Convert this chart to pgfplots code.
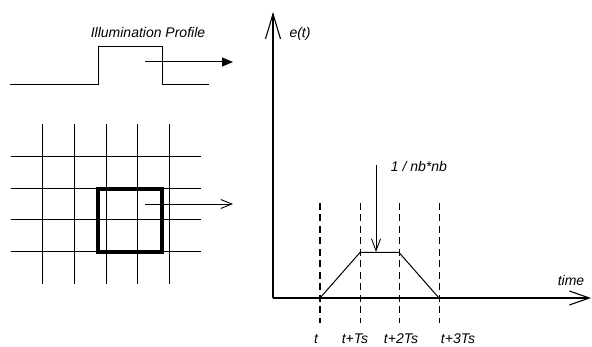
\documentclass[border=0pt]{standalone}
\usepackage{pgfplots}
\pgfplotsset{compat=1.18}
\usetikzlibrary{arrows.meta}
\usepackage{fontspec}
\setmainfont{Liberation Sans}
\tikzset{lbl/.style={font=\itshape\fontsize{14}{16}\selectfont, inner sep=0pt}}
\begin{document}
\begin{tikzpicture}
\begin{axis}[
  scale only axis, width=592pt, height=347pt,
  xmin=0, xmax=592, ymin=0, ymax=347, y dir=reverse,
  hide axis, clip=false, unbounded coords=jump,
  every axis plot/.append style={mark=none},
]
% illumination profile
\addplot[black, line width=1pt] coordinates {(10,85) (98,85) (98,47) (162,47) (162,85) (209,85)};
\addplot[black, line width=1pt, -{Triangle[length=11pt,width=9pt]}] coordinates {(145,62) (233,62)};
% grid
\addplot[black, line width=1pt] coordinates {(42,124) (42,284) (nan,nan) (74,124) (74,284) (nan,nan)
  (106,124) (106,284) (nan,nan) (137,124) (137,284) (nan,nan) (169,124) (169,284)};
\addplot[black, line width=1pt] coordinates {(11,157) (201,157) (nan,nan) (11,189) (201,189) (nan,nan)
  (11,220) (201,220) (nan,nan) (11,252) (201,252)};
\addplot[black, line width=3.2pt, line join=miter] coordinates {(98,189) (162,189) (162,252) (98,252) (98,189) (162,189)};
\addplot[black, line width=0.9pt, -{Straight Barb[length=11pt,width=9pt]}] coordinates {(145,204) (233,204)};
% axes
\addplot[black, line width=1.1pt, -{Straight Barb[length=25pt,width=15pt,line width=1.1pt]}] coordinates {(273,298) (273,12)};
\addplot[black, line width=1.1pt, -{Straight Barb[length=20pt,width=14pt,line width=1.1pt]}] coordinates {(273,298) (591,298)};
% dashed time markers
\addplot[black, line width=1.6pt, dash pattern=on 7pt off 4.5pt] coordinates {(320,203) (320,323)};
\addplot[black, line width=0.9pt, dash pattern=on 7pt off 4.5pt] coordinates {(360,203) (360,323)};
\addplot[black, line width=0.9pt, dash pattern=on 7pt off 4.5pt] coordinates {(399,203) (399,323)};
\addplot[black, line width=0.9pt, dash pattern=on 7pt off 4.5pt] coordinates {(439,203) (439,323)};
% trapezoid response
\addplot[black, line width=1pt] coordinates {(320,298) (360,252.5) (399,252.5) (439,298)};
% arrow to plateau
\addplot[black, line width=0.9pt, -{Straight Barb[length=12pt,width=9pt]}] coordinates {(376,165) (376,252)};
% labels
\node[lbl] at (axis cs:148,33) {Illumination Profile};
\node[lbl] at (axis cs:300,34) {e(t)};
\node[lbl] at (axis cs:571,280) {time};
\node[lbl] at (axis cs:419,166) {1 / nb*nb};
\node[lbl] at (axis cs:316,339) {t};
\node[lbl] at (axis cs:355,339) {t+Ts};
\node[lbl] at (axis cs:401,339) {t+2Ts};
\node[lbl] at (axis cs:458,339) {t+3Ts};
\end{axis}
\pgfresetboundingbox
\useasboundingbox (0,0) rectangle (592pt,347pt);
\end{tikzpicture}
\end{document}
